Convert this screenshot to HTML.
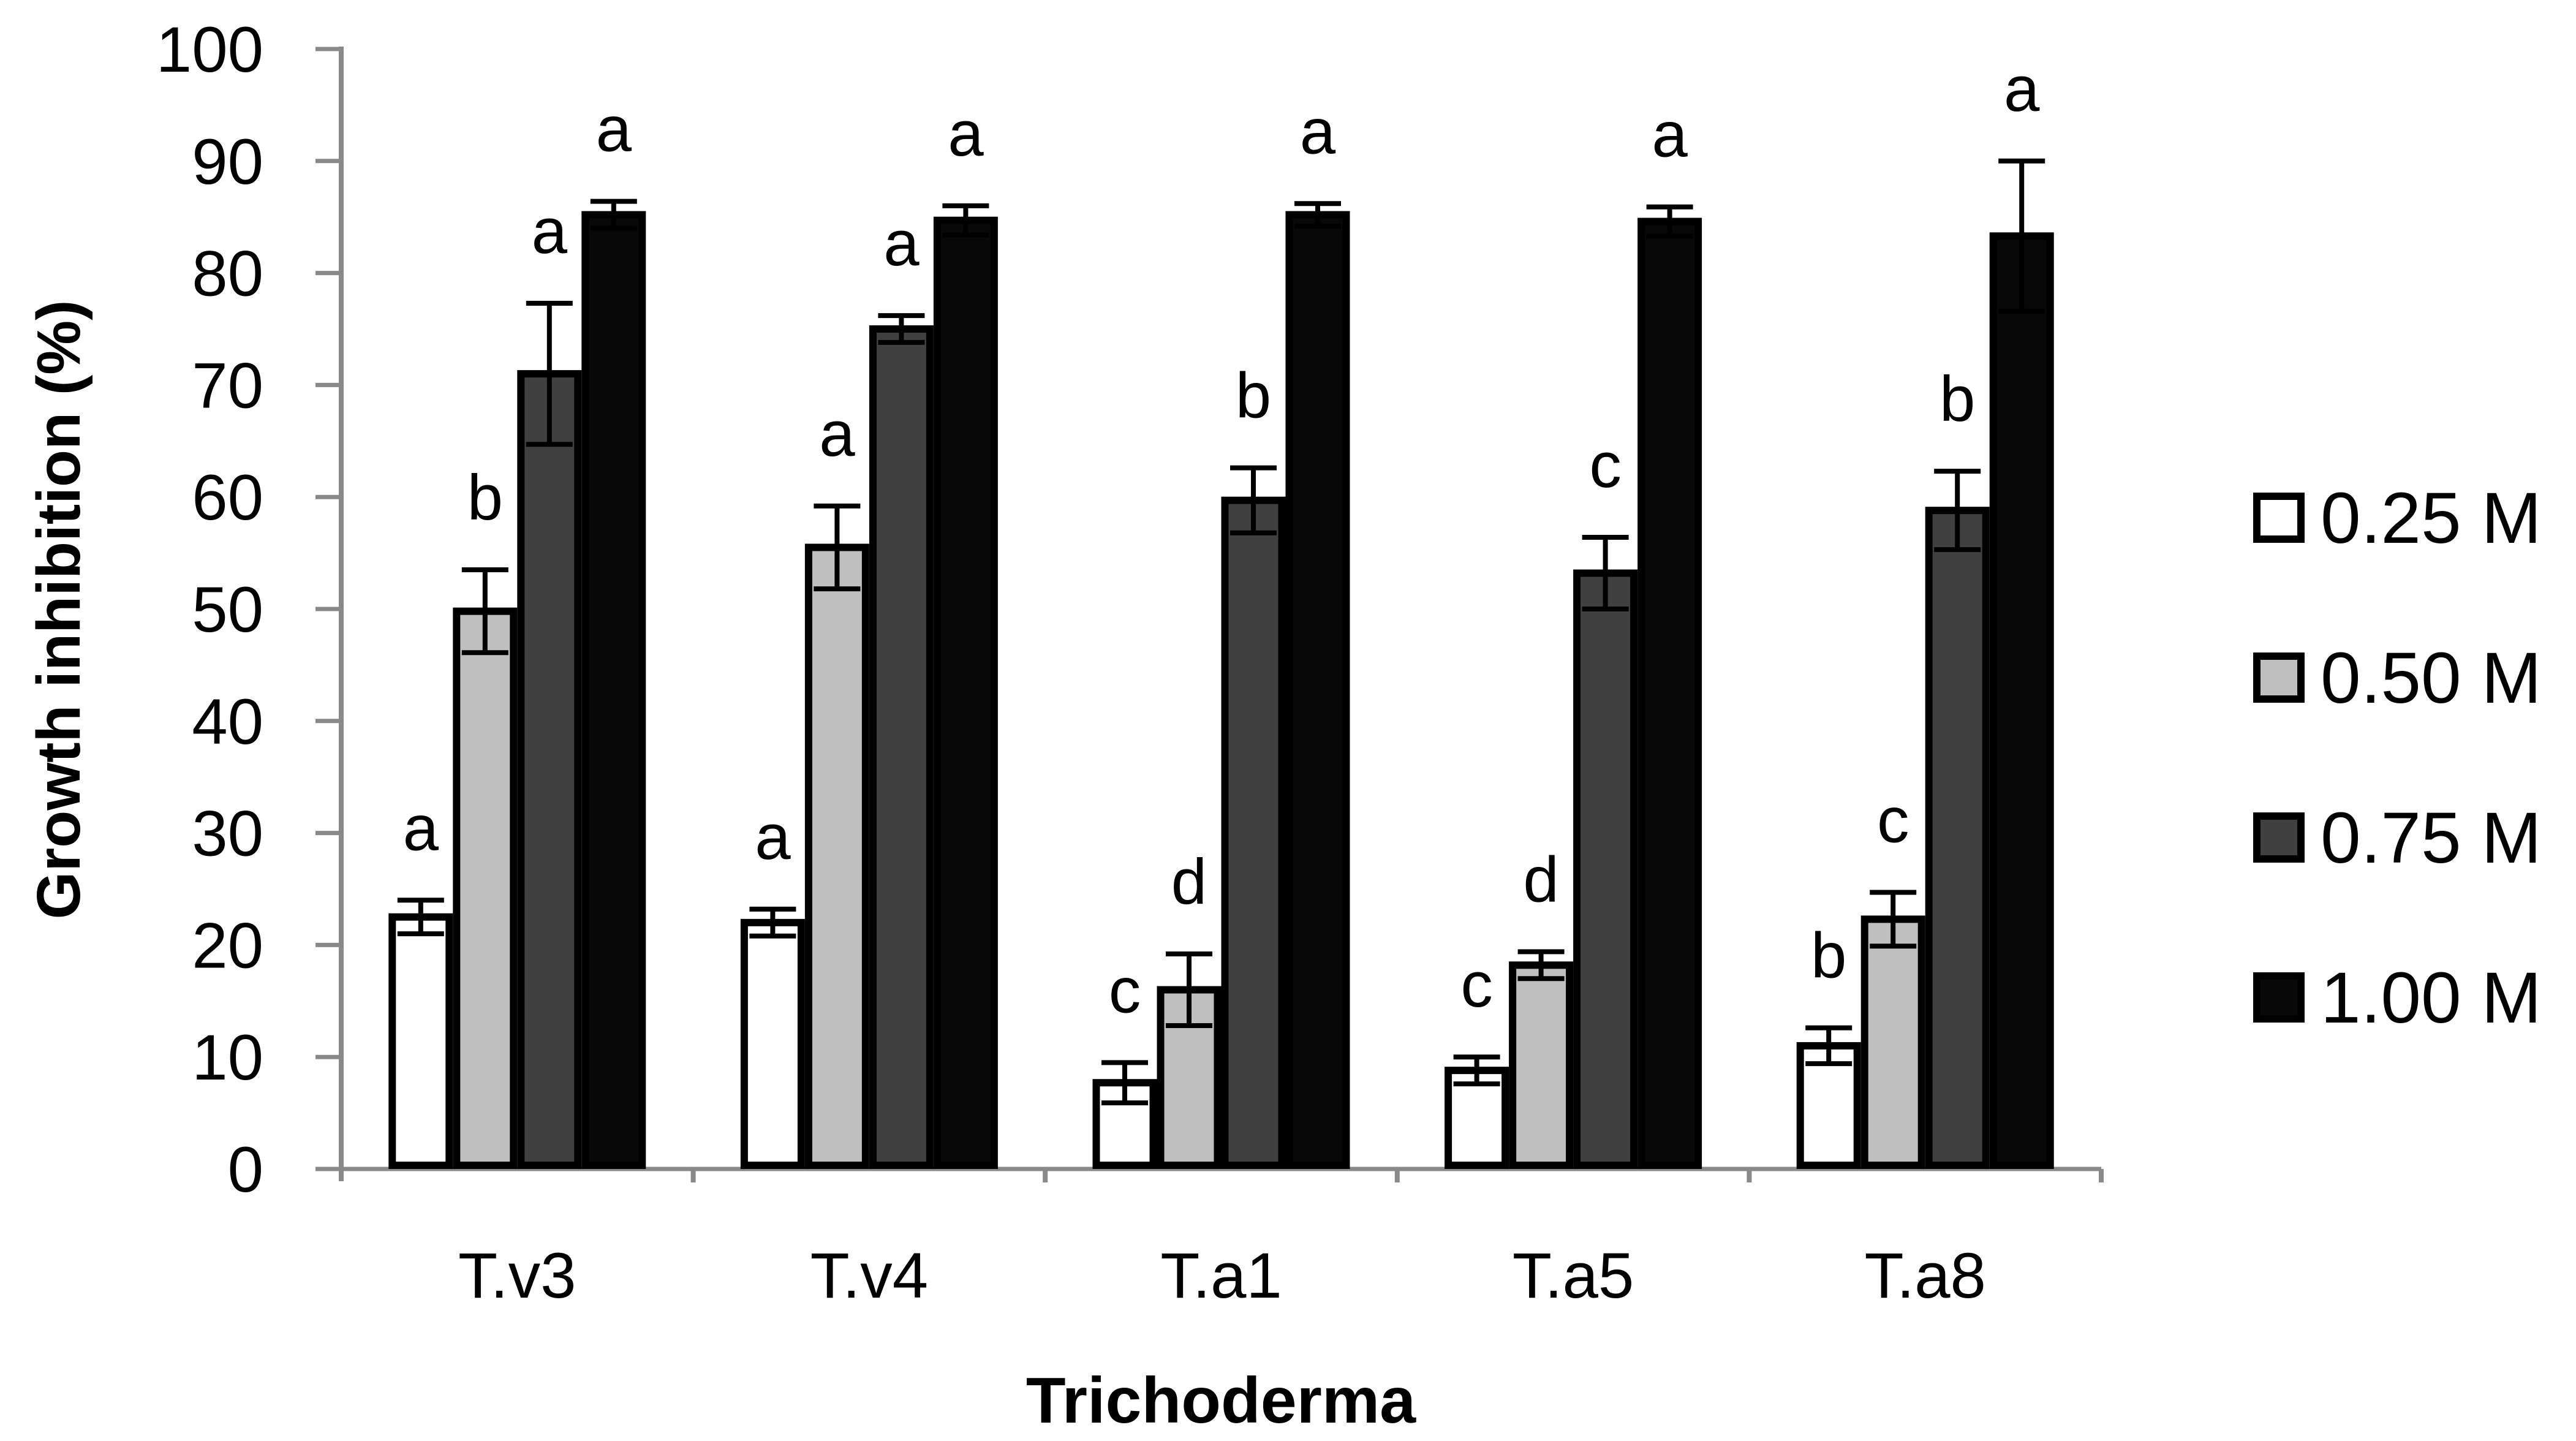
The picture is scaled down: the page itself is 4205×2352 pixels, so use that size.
<!DOCTYPE html>
<html><head><meta charset="utf-8"><style>
html,body{margin:0;padding:0;background:#fff;}
svg{display:block;font-family:"Liberation Sans",sans-serif;}
</style></head><body>
<svg id="chart" width="4205" height="2352" viewBox="0 0 4205 2352" xmlns="http://www.w3.org/2000/svg">
<g id="axes"></g><g id="bars"></g><g id="legend"></g>
<text transform="translate(130,995) rotate(-90)" text-anchor="middle" font-size="100" font-weight="bold" fill="#000">Growth inhibition (%)</text>
<text x="1993" y="2322" text-anchor="middle" font-size="106" font-weight="bold" fill="#000">Trichoderma</text>
</svg>
<script>
const categories = ["T.v3","T.v4","T.a1","T.a5","T.a8"];
const seriesNames = ["0.25 M","0.50 M","0.75 M","1.00 M"];
const v025 = [22.5,22,7.7,8.8,11];
const v050 = [49.8,55.5,16,18.2,22.3];
const v075 = [71,75,59.7,53.2,58.8];
const v100 = [85.2,84.7,85.2,84.6,83.3];
const e025 = [1.5,1.2,1.8,1.2,1.6];
const e050 = [3.7,3.7,3.2,1.2,2.4];
const e075 = [6.3,1.2,2.9,3.2,3.5];
const e100 = [1.2,1.3,1.0,1.3,6.7];
const l025 = ["a","a","c","c","b"];
const l050 = ["b","a","d","d","c"];
const l075 = ["a","a","b","c","b"];
const l100 = ["a","a","a","a","a"];
const yTicks = [0,10,20,30,40,50,60,70,80,90,100];

const NS="http://www.w3.org/2000/svg";
const X0=557,X1=3430,Y0=1908,Y1=80;
const fills=["#ffffff","#bfbfbf","#404040","#080808"];
const vals=[v025,v050,v075,v100],errs=[e025,e050,e075,e100],lets=[l025,l050,l075,l100];
function y(v){return Y0-(v/100)*(Y0-Y1);}
const catW=(X1-X0)/categories.length;
function xc(i){return X0+catW*(i+0.5);}
function mk(tag,attrs,parent,txt){const e=document.createElementNS(NS,tag);for(const k in attrs)e.setAttribute(k,attrs[k]);if(txt!==undefined)e.textContent=txt;parent.appendChild(e);return e;}
const axes=document.getElementById('axes'),bars=document.getElementById('bars'),legend=document.getElementById('legend');
let ax=mk('line',{x1:X0,y1:Y1-4,x2:X0,y2:Y0+20,stroke:'#898989','stroke-width':8},axes);


yTicks.forEach(t=>{
  const tk=mk('line',{x1:X0-42,y1:y(t),x2:X0,y2:y(t),stroke:'#898989','stroke-width':7},axes);
  
  
  const lb=mk('text',{x:430,y:y(t)+37,'text-anchor':'end','font-size':105,fill:'#000'},axes,String(t));
  
  
});
let xa=mk('line',{x1:X0-42,y1:Y0,x2:X1,y2:Y0,stroke:'#898989','stroke-width':7},axes);


for(let i=1;i<=categories.length;i++){
  const tk=mk('line',{x1:X0+catW*i,y1:Y0,x2:X0+catW*i,y2:Y0+22,stroke:'#898989','stroke-width':8},axes);
  
  
}
categories.forEach((c,i)=>{
  const lb=mk('text',{x:xc(i),y:2118,'text-anchor':'middle','font-size':105,fill:'#000'},axes,c);
  
  
});
const bw=105,sw=12;
categories.forEach((c,i)=>{
  const gx=xc(i)-2*bw;
  for(let s=0;s<4;s++){
    const v=vals[s][i],e=errs[s][i];
    const bx=gx+s*bw;
    const r=mk('rect',{x:bx+sw/2,y:y(v),width:bw-sw,height:Y0-y(v)-sw/2,fill:fills[s],stroke:'#000','stroke-width':sw},bars);
    
    
    const cx=bx+bw/2;
    const eb=mk('path',{d:`M${cx},${y(v+e)}V${y(v-e)}M${cx-38},${y(v+e)}H${cx+38}M${cx-38},${y(v-e)}H${cx+38}`,stroke:'#000','stroke-width':8,fill:'none'},bars);
    
    
    const lt=mk('text',{x:cx,y:y(v+e)-82,'text-anchor':'middle','font-size':105,fill:'#000'},bars,lets[s][i]);
    
    
  }
});
seriesNames.forEach((n,s)=>{
  const cy=845+s*261;
  const g=mk('g',{},legend);
  
  
  mk('rect',{x:3684,y:cy-35,width:72,height:70,fill:fills[s],stroke:'#000','stroke-width':12},g);
  mk('text',{x:3788,y:cy+41,'font-size':118,fill:'#000'},g,n);
});
</script>
</body></html>
